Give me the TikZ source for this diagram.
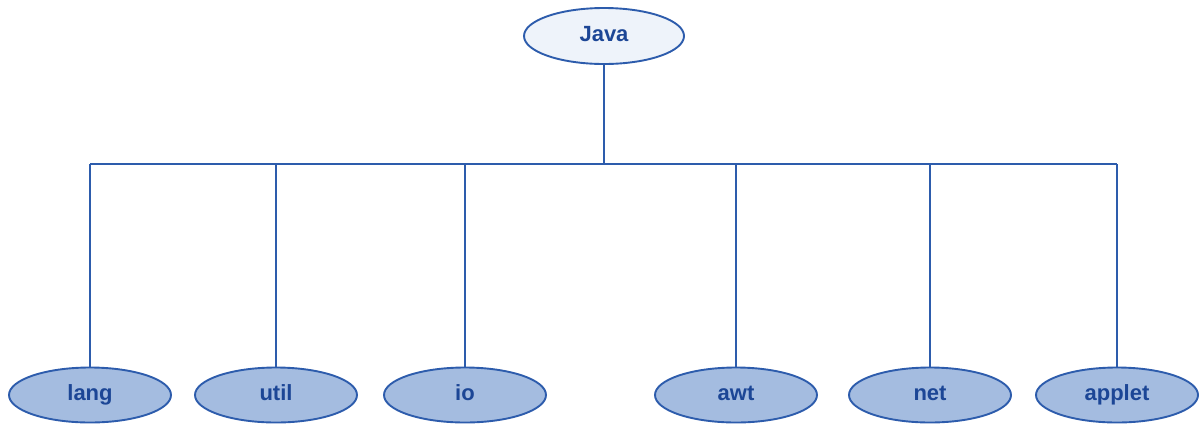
\documentclass[tikz,border=0pt]{standalone}
\usepackage{fontspec}
\setmainfont{Liberation Sans}
\usetikzlibrary{shapes.geometric}
\definecolor{edgeblue}{HTML}{2D5CAC}
\definecolor{txtblue}{HTML}{1C4696}
\definecolor{pkgfill}{HTML}{A4BCE0}
\definecolor{rootfill}{HTML}{EEF3FA}
\begin{document}
\begin{tikzpicture}[x=1pt,y=-1pt,
  pkg/.style={ellipse, draw=edgeblue, line width=1.9pt, fill=pkgfill,
    minimum width=162pt, minimum height=55pt, inner sep=0pt,
    text height=16pt, text depth=5pt,
    text=txtblue, font=\fontsize{22}{22}\selectfont\bfseries},
  root/.style={pkg, fill=rootfill, minimum width=160pt, minimum height=56pt},
  link/.style={draw=edgeblue, line width=1.4pt}]
\useasboundingbox (0,0) rectangle (1199,424);
\node[root] (java) at (604,36) {Java};
\node[pkg] (lang) at (90,395) {lang};
\node[pkg] (util) at (276,395) {util};
\node[pkg] (io) at (465,395) {io};
\node[pkg] (awt) at (736,395) {awt};
\node[pkg] (net) at (930,395) {net};
\node[pkg] (applet) at (1117,395) {applet};
\coordinate (bus) at (604,164);
\draw[link] (java.south) -- (bus);
\draw[link] (lang |- bus) -- (applet |- bus);
\foreach \n in {lang,util,io,awt,net,applet}
  \draw[link] (\n.north) -- (\n |- bus);
\end{tikzpicture}
\end{document}
